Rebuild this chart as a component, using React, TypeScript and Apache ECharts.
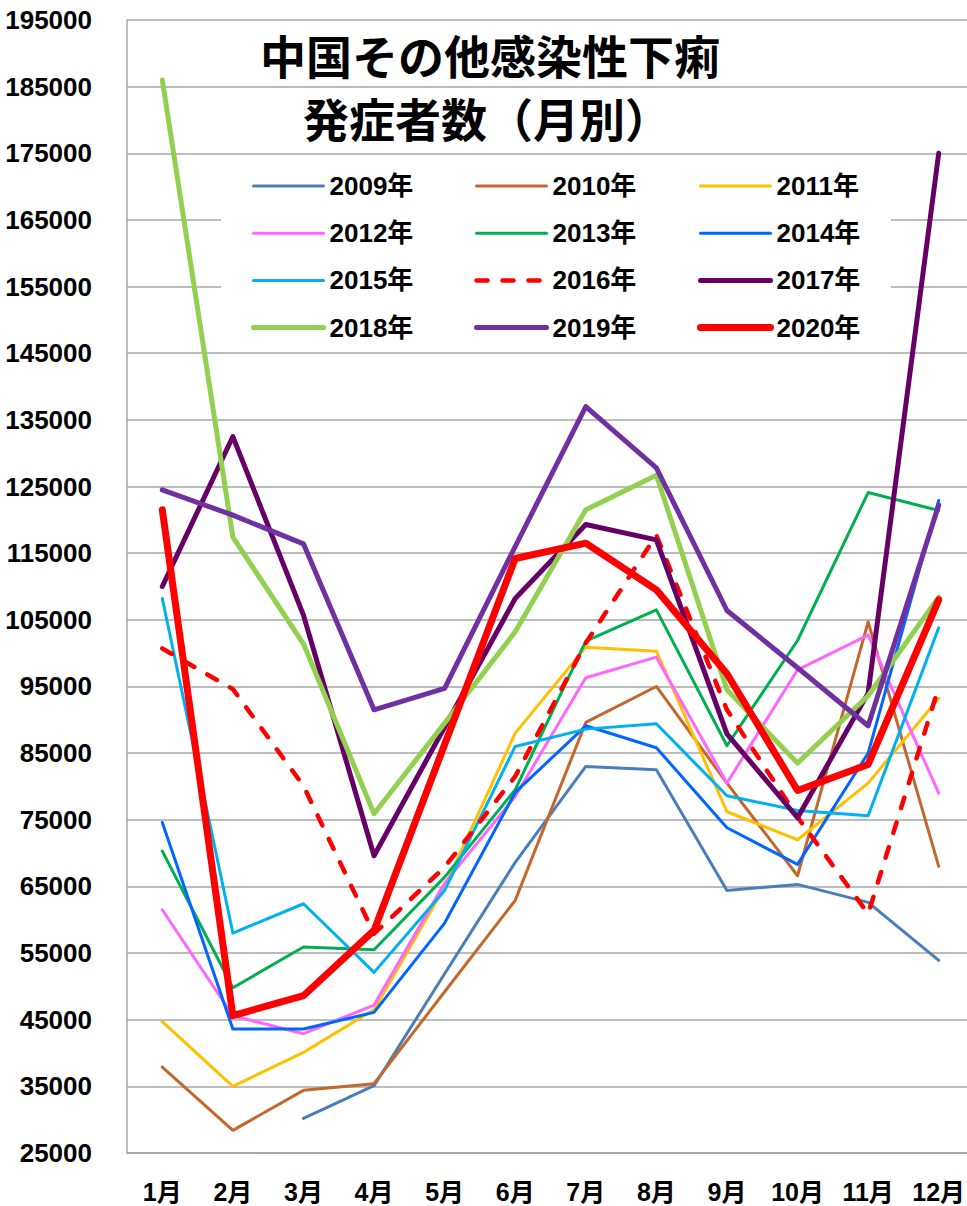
import React, { useEffect, useRef } from "react";
import * as echarts from "echarts";

const months = ["1月", "2月", "3月", "4月", "5月", "6月", "7月", "8月", "9月", "10月", "11月", "12月"];
const yearNames = ["2009年", "2010年", "2011年", "2012年", "2013年", "2014年", "2015年", "2016年", "2017年", "2018年", "2019年", "2020年"];

const y2009 = [null, null, 30200, 35100, 51900, 68600, 83000, 82500, 64400, 65300, 62600, 53900];
const y2010 = [37900, 28400, 34400, 35400, 49200, 62900, 89600, 95000, 80500, 66600, 104700, 68000];
const y2011 = [44700, 35000, 40100, 46500, 64900, 88000, 100900, 100300, 76200, 72000, 80500, 93200];
const y2012 = [61500, 45600, 42900, 47200, 65500, 78500, 96300, 99400, 80500, 97500, 102700, 79000];
const y2013 = [70300, 49800, 55900, 55500, 66400, 79500, 101800, 106500, 86100, 101900, 124100, 121400];
const y2014 = [74600, 43600, 43600, 46100, 59500, 79100, 89100, 85800, 73800, 68300, 85000, 122900];
const y2015 = [108200, 58000, 62400, 52100, 64400, 86000, 88600, 89400, 78600, 76400, 75600, 103800];
const y2016 = [100700, 94600, 80100, 57900, 67900, 81500, 101500, 117700, 91500, 75400, 60900, 94900];
const y2017 = [110000, 132500, 105700, 69600, 88900, 108200, 119300, 117000, 87900, 75300, 94000, 175000];
const y2018 = [186000, 117400, 101400, 75900, 89500, 103200, 121500, 126700, 94500, 83500, 93600, 108400];
const y2019 = [124500, 120700, 116400, 91500, 94700, 116000, 137000, 127800, 106400, 97800, 89100, 122200];
const y2020 = [121500, 45600, 48600, 58400, 86300, 114200, 116500, 109500, 96900, 79400, 83300, 108000];

const allData = [y2009, y2010, y2011, y2012, y2013, y2014, y2015, y2016, y2017, y2018, y2019, y2020];

const titleLine1 = "中国その他感染性下痢";
const titleLine2 = "発症者数（月別）";

const yMin = 25000;
const yMax = 195000;
const yStep = 10000;

// styles (kept separate from data)
const colors = ["#4A7EBB", "#C4672C", "#FFC000", "#FF66FF", "#00B050", "#0066FF", "#00B0F0", "#FF0000", "#660066", "#92D050", "#7030A0", "#FF0000"];
const widths = [3, 3, 3, 3, 3, 3, 3, 4.5, 5, 5, 5, 7];
const dashed = [false, false, false, false, false, false, false, true, false, false, false, false];

const LABEL_FONT = "'Liberation Sans', Arial, 'Noto Sans CJK JP', sans-serif";
const CJK_FONT = "'Noto Sans CJK JP', 'Liberation Sans', sans-serif";

export default function App() {
  const ref = useRef<HTMLDivElement>(null);

  useEffect(() => {
    if (!ref.current) return;
    const chart = echarts.init(ref.current, null, { renderer: "svg" });

    const series = yearNames.map((name, i) => ({
      name,
      type: "line",
      data: allData[i],
      symbol: "none",
      connectNulls: false,
      z: 2,
      lineStyle: {
        color: colors[i],
        width: widths[i],
        type: dashed[i] ? [11, 15] : "solid",
        cap: "round",
        join: "round",
      },
      itemStyle: { color: colors[i] },
    }));

    const legendCols = [0, 1, 2].map((c) => ({
      orient: "vertical",
      left: [251, 474, 697][c],
      top: 171,
      padding: 0,
      itemWidth: 70,
      itemHeight: 14,
      itemGap: 17.2,
      selectedMode: false,
      itemStyle: { opacity: 0 },
      textStyle: {
        fontSize: 26,
        fontWeight: "bold",
        color: "#000",
        fontFamily: LABEL_FONT,
        lineHeight: 30,
        padding: [0, 0, 0, 1],
      },
      data: yearNames
        .map((n, i) => ({ n, i }))
        .filter((o) => o.i % 3 === c)
        .map((o) => ({
          name: o.n,
          itemStyle: { opacity: 0 },
          lineStyle: { width: widths[o.i], type: dashed[o.i] ? [11, 15] : "solid", cap: "round", color: colors[o.i] },
        })),
    }));

    chart.setOption({
      animation: false,
      backgroundColor: "#ffffff",
      grid: { left: 127, top: 20, width: 847, height: 1133, containLabel: false, outerBoundsMode: "none" },
      legend: legendCols,
      xAxis: {
        type: "category",
        data: months,
        boundaryGap: true,
        axisLine: { show: true, lineStyle: { color: "#A6A6A6", width: 1.5 } },
        axisTick: { show: false },
        axisLabel: {
          margin: 26,
          fontSize: 25,
          fontWeight: "bold",
          color: "#000",
          fontFamily: LABEL_FONT,
          interval: 0,
          hideOverlap: false,
        },
        splitLine: { show: false },
      },
      yAxis: {
        type: "value",
        min: yMin,
        max: yMax,
        interval: yStep,
        axisLine: { show: true, lineStyle: { color: "#A6A6A6", width: 1.5 } },
        axisTick: { show: false },
        axisLabel: {
          margin: 35,
          fontSize: 26,
          fontWeight: "bold",
          color: "#000",
          fontFamily: LABEL_FONT,
          formatter: (v: number) => String(v),
        },
        splitLine: { show: true, lineStyle: { color: "#A6A6A6", width: 1.5 } },
      },
      graphic: [
        {
          type: "rect",
          z: 1,
          silent: true,
          shape: { x: 221, y: 160, width: 670, height: 186 },
          style: { fill: "#ffffff" },
        },
        {
          type: "text",
          z: 5,
          x: 490,
          y: 54,
          style: {
            text: titleLine1,
            fontSize: 46,
            fontWeight: "bold",
            fontFamily: CJK_FONT,
            fill: "#000",
            align: "center",
            verticalAlign: "middle",
          },
        },
        {
          type: "text",
          z: 5,
          x: 487,
          y: 117,
          style: {
            text: titleLine2,
            fontSize: 46,
            fontWeight: "bold",
            fontFamily: CJK_FONT,
            fill: "#000",
            align: "center",
            verticalAlign: "middle",
          },
        },
      ],
      series,
    });

    return () => chart.dispose();
  }, []);

  return (
    <div
      ref={ref}
      style={{ position: "absolute", left: 0, top: 0, width: 967, height: 1206, background: "#fff" }}
    />
  );
}
